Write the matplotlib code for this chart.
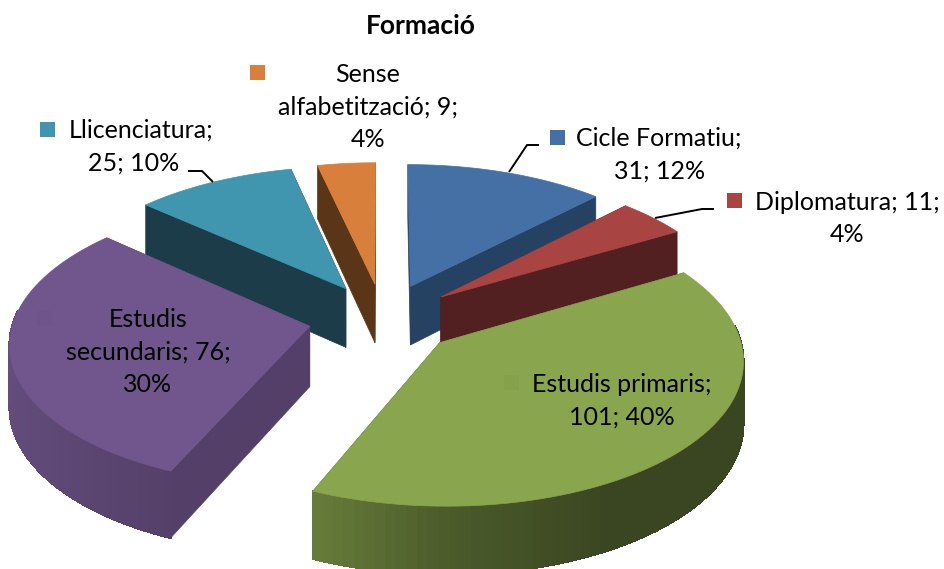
import numpy as np
import matplotlib
matplotlib.use("Agg")
import matplotlib.pyplot as plt
from matplotlib.collections import PolyCollection
from matplotlib.patches import Polygon, Rectangle

# data, clockwise from 12 o'clock
categories = ["Cicle Formatiu", "Diplomatura", "Estudis primaris",
              "Estudis secundaris", "Llicenciatura", "Sense alfabetització"]
values = [31, 11, 101, 76, 25, 9]
percents = [12, 4, 40, 30, 10, 4]
label_lines = [
    ["Cicle Formatiu;", "31; 12%"],
    ["Diplomatura; 11;", "4%"],
    ["Estudis primaris;", "101; 40%"],
    ["Estudis", "secundaris; 76;", "30%"],
    ["Llicenciatura;", "25; 10%"],
    ["Sense", "alfabetització; 9;", "4%"],
]
title = "Formació"

top_colors = ["#4470a5", "#a84543", "#89a54e", "#70568c", "#3f96ae", "#d8803b"]
wall_colors = ["#254263", "#532022", "#4c5a2b", "#533f68", "#1b3c48", "#5a3517"]
draw_order = [5, 4, 0, 1, 3, 2]

# projection of the pie, in pixels
cx, cy = 383, 318.6
rx, ry = 296, 141
persp = 0.105
explode = 0.252
depth = 60

# centre x of each text line, y of first line
label_x = [[659, 660], [847, 847], [622, 622], [148, 148, 148], [141, 134], [368, 368, 368]]
label_y = [138, 202, 384, 319, 130, 74]
line_step = 32.7
key_pos = [(550, 130), (727, 193), (504, 375), (37, 311), (40, 122), (250, 65)]
key_alpha = [1, 1, 0.02, 0.02, 1, 1]
leaders = [
    [(509, 172), (527, 145), (539, 145)],
    [(655, 218), (702, 209), (714, 209)],
    [(213, 182), (202, 171), (188, 171)],
]


def project(theta, mid, down=0.0):
    # theta, mid in radians, clockwise from the back of the pie
    X = np.sin(theta) + explode * np.sin(mid)
    Y = np.cos(theta) + explode * np.cos(mid)
    w = 1 / (1 + persp * Y)
    return np.column_stack([cx + rx * X * w, cy - ry * Y * w + depth * w * down])


def apex(mid, down=0.0):
    X = explode * np.sin(mid)
    Y = explode * np.cos(mid)
    w = 1 / (1 + persp * Y)
    return np.array([cx + rx * X * w, cy - ry * Y * w + depth * w * down])


def shade(color, theta):
    f = np.interp(np.sin(theta), [-1, -0.37, 0, 0.5, 1], [0.89, 0.74, 0.55, 0.42, 0.42])
    return np.clip(np.array(matplotlib.colors.to_rgb(color)) * f, 0, 1)


fig = plt.figure(figsize=(9.44, 5.69), dpi=100)
ax = fig.add_axes([0, 0, 1, 1])
ax.set_xlim(0, 944)
ax.set_ylim(569, 0)
ax.axis("off")

total = sum(values)
edges = np.cumsum([0] + values) / total * 2 * np.pi

for i in draw_order:
    t0, t1 = edges[i], edges[i + 1]
    mid = (t0 + t1) / 2
    th = np.linspace(t0, t1, 80)
    top_arc = project(th, mid)
    low_arc = project(th, mid, 1)
    a_top, a_low = apex(mid), apex(mid, 1)

    # cut faces
    for k in (0, -1):
        ax.add_patch(Polygon([a_top, top_arc[k], low_arc[k], a_low],
                             fc=wall_colors[i], ec=wall_colors[i], lw=0.5))
    # outer rim, front half only
    quads, cols = [], []
    for j in range(len(th) - 1):
        m = (th[j] + th[j + 1]) / 2
        if np.cos(m) < 0.1:
            quads.append([top_arc[j], top_arc[j + 1], low_arc[j + 1], low_arc[j]])
            cols.append(shade(top_colors[i], m))
    if quads:
        ax.add_collection(PolyCollection(quads, facecolors=cols, edgecolors=cols,
                                         linewidths=0.8, antialiaseds=False))
    # top
    ax.add_patch(Polygon(np.vstack([a_top, top_arc]), fc=top_colors[i], ec=top_colors[i], lw=0.5))

for pts in leaders:
    xs, ys = zip(*pts)
    ax.plot(xs, ys, color="black", lw=1.4, solid_capstyle="butt")

for i, lines in enumerate(label_lines):
    for n, line in enumerate(lines):
        ax.text(label_x[i][n], label_y[i] + n * line_step, line, ha="center", va="center",
                fontsize=18, family="Lato", color="black")
    kx, ky = key_pos[i]
    ax.add_patch(Rectangle((kx, ky), 15, 15, fc=top_colors[i] if key_alpha[i] == 1 else "black",
                           ec="none", alpha=key_alpha[i]))

ax.text(421, 26, title, ha="center", va="center", fontsize=19, fontweight="bold",
        family="Lato", color="black")

fig.savefig("out.png", dpi=100)
